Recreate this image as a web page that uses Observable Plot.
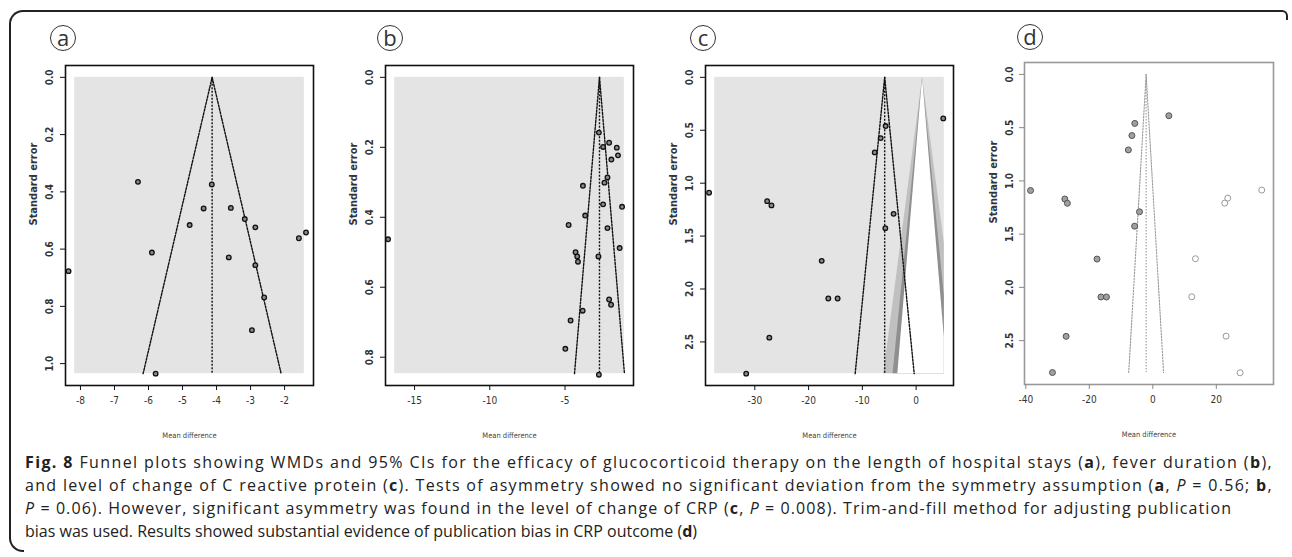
<!DOCTYPE html>
<html><head><meta charset="utf-8">
<script src="https://cdn.jsdelivr.net/npm/d3@7"></script>
<script src="https://cdn.jsdelivr.net/npm/@observablehq/plot@0.6"></script>
<style>
html,body{margin:0;padding:0;background:#fff;}
#fig{position:relative;width:1292px;height:557px;overflow:hidden;background:#fff;}
.frame-top{position:absolute;left:9px;top:10px;width:1279px;height:300px;border-top:2px solid #222;border-left:2px solid #222;border-right:2px solid #222;border-top-left-radius:14px;border-top-right-radius:6px;box-sizing:border-box;}
.frame-left{position:absolute;left:9px;top:300px;width:20px;height:252px;border-left:2px solid #222;border-bottom:2px solid #222;border-bottom-left-radius:14px;box-sizing:border-box;}
.mask-right{position:absolute;left:1280px;top:20px;width:12px;height:540px;background:#fff;}
.mask-bottom{position:absolute;left:24px;top:545px;width:30px;height:12px;background:#fff;}
.panel{position:absolute;top:20px;}
.letter{position:absolute;width:26px;height:26px;border:1.3px solid #333;border-radius:50%;box-sizing:border-box;font:22px "Open Sans",sans-serif;color:#333;text-align:center;line-height:22px;}
#caption{position:absolute;left:25px;top:451px;font-family:"Open Sans",sans-serif;font-size:16px;line-height:23px;color:#222;white-space:nowrap;}
#caption span.line{display:inline-block;}
#caption b{font-weight:700;}
</style>
</head><body>
<div id="fig">
  <div class="frame-top"></div>
  <div class="mask-right"></div>
  <div class="frame-left"></div>
  <div class="mask-bottom"></div>
  <div class="letter" style="left:50px;top:25px">a</div>
  <div class="letter" style="left:377px;top:25px">b</div>
  <div class="letter" style="left:690px;top:25px">c</div>
  <div class="letter" style="left:1017px;top:24px">d</div>
  <div id="pa" class="panel" style="left:0px"></div>
  <div id="pb" class="panel" style="left:320px"></div>
  <div id="pc" class="panel" style="left:640px"></div>
  <div id="pd" class="panel" style="left:960px"></div>
  <div id="caption">
    <div><span class="line"><b>Fig. 8</b> Funnel plots showing WMDs and 95% CIs for the efficacy of glucocorticoid therapy on the length of hospital stays (<b>a</b>), fever duration (<b>b</b>),</span></div>
    <div><span class="line">and level of change of C reactive protein (<b>c</b>). Tests of asymmetry showed no significant deviation from the symmetry assumption (<b>a</b>, <i>P</i> = 0.56; <b>b</b>,</span></div>
    <div><span class="line"><i>P</i> = 0.06). However, significant asymmetry was found in the level of change of CRP (<b>c</b>, <i>P</i> = 0.008). Trim-and-fill method for adjusting publication</span></div>
    <div><span class="line">bias was used. Results showed substantial evidence of publication bias in CRP outcome (<b>d</b>)</span></div>
  </div>
</div>
<script>
// ---------- Data ----------
// (a) length of hospital stay
const aMD = [-6.31, -4.14, -4.38, -3.58, -4.79, -3.17, -2.86, -1.58, -1.37, -5.90, -3.64, -8.35, -2.86, -2.60, -2.96, -5.79];
const aSE = [0.365, 0.374, 0.458, 0.456, 0.516, 0.495, 0.524, 0.562, 0.542, 0.612, 0.629, 0.677, 0.656, 0.769, 0.883, 1.035];
const aXlim = [-8.17, -1.42], aYlim = [0, 1.035], aCenter = -4.13;
const aXTicks = [-8, -7, -6, -5, -4, -3, -2];
const aYTicks = [0, 0.2, 0.4, 0.6, 0.8, 1.0];

// (b) fever duration
const bMD = [-16.76, -2.75, -2.07, -2.47, -1.56, -1.48, -1.92, -2.18, -2.38, -3.81, -2.47, -1.21, -3.66, -4.76, -2.18, -1.37, -4.30, -4.19, -4.14, -2.78, -2.07, -1.94, -3.83, -4.63, -4.98, -2.75];
const bSE = [0.463, 0.158, 0.187, 0.199, 0.201, 0.223, 0.235, 0.286, 0.301, 0.310, 0.363, 0.370, 0.395, 0.422, 0.431, 0.488, 0.500, 0.512, 0.527, 0.512, 0.635, 0.650, 0.667, 0.695, 0.776, 0.850];
const bXlim = [-16.32, -1.06], bYlim = [0, 0.847], bCenter = -2.71;
const bXTicks = [-15, -10, -5];
const bYTicks = [0, 0.2, 0.4, 0.6, 0.8];

// (c) change of CRP (observed studies), also used in (d)
const cMD = [5.05, -5.67, -6.59, -7.70, -38.5, -27.7, -26.9, -4.19, -5.73, -17.56, -16.33, -14.60, -27.3, -31.6];
const cSE = [0.388, 0.46, 0.574, 0.709, 1.09, 1.17, 1.21, 1.29, 1.425, 1.734, 2.09, 2.09, 2.46, 2.80];
const cXlim = [-37.46, 5.24], cYlim = [0, 2.80], cCenter = -5.85;
const cContourCenter = 1.2;
const contourZ = [2.576, 1.96, 1.645];
const contourShades = ["#c0c0c0", "#8f8f8f", "#ffffff"];
const cXTicks = [-30, -20, -10, 0];
const cYTicks = [0, 0.5, 1.0, 1.5, 2.0, 2.5];

// (d) trim-and-fill: imputed studies
const dImpMD = [34.3, 23.6, 22.65, 13.42, 12.27, 23.07, 27.48];
const dImpSE = [1.086, 1.162, 1.209, 1.731, 2.088, 2.458, 2.802];
const dXlim = [-37.5, 35.1], dYlim = [0, 2.80], dCenter = -2.1;
const dXTicks = [-40, -20, 0, 20];
const dYTicks = [0, 0.5, 1.0, 1.5, 2.0, 2.5];

const Z95 = 1.96;

// ---------- helpers ----------
const ext = ([a, b]) => { const e = (b - a) * 0.04; return [a - e, b + e]; };
const fmtX = d => (d < 0 ? "-" : "") + Math.abs(d);
const zip = (xs, ys) => xs.map((x, i) => ({x, y: ys[i]}));

function panel(p) {
  const [x0, x1] = p.xlim, [y0, y1] = p.ylim;
  const marks = [];
  if (p.bg) marks.push(Plot.rect([{x1: x0, x2: x1, y1: y0, y2: y1}], {x1: "x1", x2: "x2", y1: "y1", y2: "y2", fill: p.bg}));
  if (p.contour) {
    const ss = d3.range(0, 1.0001, 0.0025).map(t => t * y1);
    contourZ.forEach((k, i) => {
      marks.push(Plot.areaX(ss, {
        y: s => s,
        x1: s => Math.max(x0, Math.min(x1, p.contour - k * s)),
        x2: s => Math.min(x1, Math.max(x0, p.contour + k * s)),
        fill: contourShades[i], curve: "linear"
      }));
    });
  }
  const c = p.center;
  const fl = [{x: c - Z95 * y1, y: y1}, {x: c, y: y0}, {x: c + Z95 * y1, y: y1}];
  marks.push(Plot.line(fl, {x: "x", y: "y", stroke: p.lineColor, strokeWidth: p.lineWidth, strokeDasharray: p.dash}));
  marks.push(Plot.ruleX([c], {y1: y0, y2: y1, stroke: p.lineColor, strokeWidth: p.lineWidth, strokeDasharray: p.dash}));
  p.points.forEach(pt => marks.push(Plot.dot(pt.data, {x: "x", y: "y", r: pt.r, fill: pt.fill, stroke: pt.stroke, strokeWidth: pt.sw})));
  marks.push(Plot.frame({stroke: p.frameColor, strokeWidth: 1.6}));
  marks.push(Plot.axisX(p.xTicks, {tickSize: 5, tickPadding: 6, tickFormat: fmtX, label: null, stroke: p.tickColor, fill: "#333", fontSize: p.tickFont}));
  marks.push(Plot.axisY(p.yTicks, {tickSize: 5, tickPadding: p.yPad, tickRotate: -90, tickFormat: d => d.toFixed(1), label: null, stroke: p.tickColor, fill: "#333", fontSize: p.tickFont, fontWeight: "bold"}));
  marks.push(Plot.text(["Standard error"], {frameAnchor: "left", dx: p.titleDx, rotate: -90, fontSize: 11, fontWeight: "bold", fill: "#333"}));
  marks.push(Plot.text(["Mean difference"], {frameAnchor: "bottom", dy: 52, fontSize: 7.5, fill: "#444"}));
  return Plot.plot({
    width: 330, height: 425,
    marginLeft: p.ml, marginRight: 17, marginTop: p.mt, marginBottom: p.mb,
    x: {domain: ext(p.xlim)},
    y: {domain: ext(p.ylim), reverse: true},
    style: {fontFamily: "'Liberation Sans Narrow','DejaVu Sans Condensed','Liberation Sans',sans-serif", background: "transparent", overflow: "visible"},
    marks
  });
}

const darkPts = {r: 2.3, fill: "#8a8a8a", stroke: "#111", sw: 1.3};
const common = {ml: 65, mt: 45, mb: 60, bg: "#e4e4e4", lineColor: "#111", lineWidth: 1.4, dash: "2,1.5", frameColor: "#111", tickColor: "#111", tickFont: 10, yPad: 8, titleDx: -32};

document.getElementById("pa").append(panel({...common, xlim: aXlim, ylim: aYlim, center: aCenter, xTicks: aXTicks, yTicks: aYTicks,
  points: [{data: zip(aMD, aSE), ...darkPts}]}));
document.getElementById("pb").append(panel({...common, xlim: bXlim, ylim: bYlim, center: bCenter, xTicks: bXTicks, yTicks: bYTicks,
  points: [{data: zip(bMD, bSE), ...darkPts}]}));
document.getElementById("pc").append(panel({...common, xlim: cXlim, ylim: cYlim, center: cCenter, contour: cContourCenter, xTicks: cXTicks, yTicks: cYTicks,
  points: [{data: zip(cMD, cSE), ...darkPts}]}));
document.getElementById("pd").append(panel({...common, ml: 64, mt: 42, mb: 61, bg: null, xlim: dXlim, ylim: dYlim, center: dCenter,
  lineColor: "#999", lineWidth: 1.1, dash: "1.5,1.5", frameColor: "#999", tickColor: "#888", tickFont: 10, yPad: 7, titleDx: -31,
  xTicks: dXTicks, yTicks: dYTicks,
  points: [{data: zip(cMD, cSE), r: 3, fill: "#a0a0a0", stroke: "#555", sw: 1},
           {data: zip(dImpMD, dImpSE), r: 3, fill: "#fff", stroke: "#999", sw: 1}]}));

// fit each caption line to the width it has in the reference
(function fitCaption() {
  const targets = [1248, 1248, 1207, 672];
  document.querySelectorAll("#caption span.line").forEach((el, i) => {
    const w = el.getBoundingClientRect().width;
    const n = el.textContent.length;
    el.style.letterSpacing = Math.max(0, (targets[i] - w) / n).toFixed(3) + "px";
  });
})();
</script>
</body></html>
